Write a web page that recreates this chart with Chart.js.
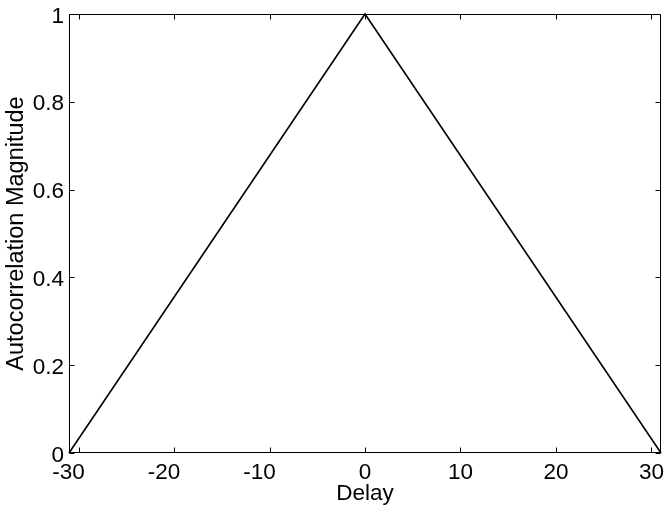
<!DOCTYPE html>
<html>
<head>
<meta charset="utf-8">
<script src="https://cdn.jsdelivr.net/npm/chart.js@4.4.1/dist/chart.umd.min.js"></script>
<style>
  html, body { margin: 0; padding: 0; background: #fff; }
  #chart { display: block; }
</style>
</head>
<body>
<canvas id="chart" width="664" height="511"></canvas>
<script>
// Autocorrelation of the sequence: vertices of the triangular magnitude curve
const delays = [-31, 0, 31];
const magnitudes = [0, 1, 0];

// Axis ticks
const xTicks = [-30, -20, -10, 0, 10, 20, 30];
const yTicks = [0, 0.2, 0.4, 0.6, 0.8, 1];

const FONT_FAMILY = '"Liberation Sans", Arial, Helvetica, sans-serif';
const FONT_SIZE = 22.5;

// Boxed axes with inward tick marks on all four sides, plus tick labels
const boxAxes = {
  id: 'boxAxes',
  afterDraw(chart) {
    const { ctx, chartArea: a, scales } = chart;
    const xs = scales.x, ys = scales.y;
    const L = Math.round(a.left) + 0.5, R = Math.round(a.right) - 0.5;
    const T = Math.round(a.top) + 0.5, B = Math.round(a.bottom) - 0.5;
    const len = 5;
    ctx.save();
    ctx.strokeStyle = '#000';
    ctx.lineWidth = 1;
    ctx.beginPath();
    ctx.rect(L, T, R - L, B - T);
    xTicks.forEach(v => {
      const px = Math.round(xs.getPixelForValue(v)) + 0.5;
      ctx.moveTo(px, B); ctx.lineTo(px, B - len);
      ctx.moveTo(px, T); ctx.lineTo(px, T + len);
    });
    yTicks.forEach(v => {
      const py = Math.round(ys.getPixelForValue(v)) + 0.5;
      ctx.moveTo(L, py); ctx.lineTo(L + len, py);
      ctx.moveTo(R, py); ctx.lineTo(R - len, py);
    });
    ctx.stroke();

    ctx.fillStyle = '#000';
    ctx.font = FONT_SIZE + 'px ' + FONT_FAMILY;
    ctx.textBaseline = 'alphabetic';
    ctx.textAlign = 'center';
    xTicks.forEach(v => {
      const px = xs.getPixelForValue(v) - (v < 0 ? 10 : 0);
      ctx.fillText(String(v), px, a.bottom + 26);
    });
    ctx.textAlign = 'right';
    yTicks.forEach(v => {
      const py = ys.getPixelForValue(v);
      ctx.fillText(String(+v.toFixed(1)), a.left - 5, py + 8.5);
    });
    ctx.restore();
  }
};

new Chart(document.getElementById('chart'), {
  type: 'scatter',
  data: {
    datasets: [{
      data: delays.map((d, i) => ({ x: d, y: magnitudes[i] })),
      showLine: true,
      borderColor: '#000',
      borderWidth: 1.6,
      pointRadius: 0,
      pointHoverRadius: 0,
      fill: false,
      tension: 0,
      clip: false
    }]
  },
  options: {
    responsive: false,
    animation: false,
    devicePixelRatio: 1,
    events: [],
    layout: { padding: { left: 0, right: 3, top: 14, bottom: 0 } },
    plugins: {
      legend: { display: false },
      tooltip: { enabled: false }
    },
    scales: {
      x: {
        type: 'linear',
        min: -31,
        max: 31,
        afterBuildTicks: s => { s.ticks = xTicks.map(v => ({ value: v })); },
        afterFit: s => { s.height = 58; },
        ticks: { display: false },
        grid: { display: false },
        border: { display: false },
        title: {
          display: true,
          text: 'Delay',
          color: '#000',
          font: { family: FONT_FAMILY, size: FONT_SIZE, lineHeight: 1 },
          padding: { top: 0, bottom: 6 }
        }
      },
      y: {
        type: 'linear',
        min: 0,
        max: 1,
        afterBuildTicks: s => { s.ticks = yTicks.map(v => ({ value: v })); },
        afterFit: s => { s.width = 69; },
        ticks: { display: false },
        grid: { display: false },
        border: { display: false },
        title: {
          display: true,
          text: 'Autocorrelation Magnitude',
          color: '#000',
          font: { family: FONT_FAMILY, size: 23.5, lineHeight: 1 },
          padding: { top: 5, bottom: 0 }
        }
      }
    }
  },
  plugins: [boxAxes]
});
</script>
</body>
</html>
